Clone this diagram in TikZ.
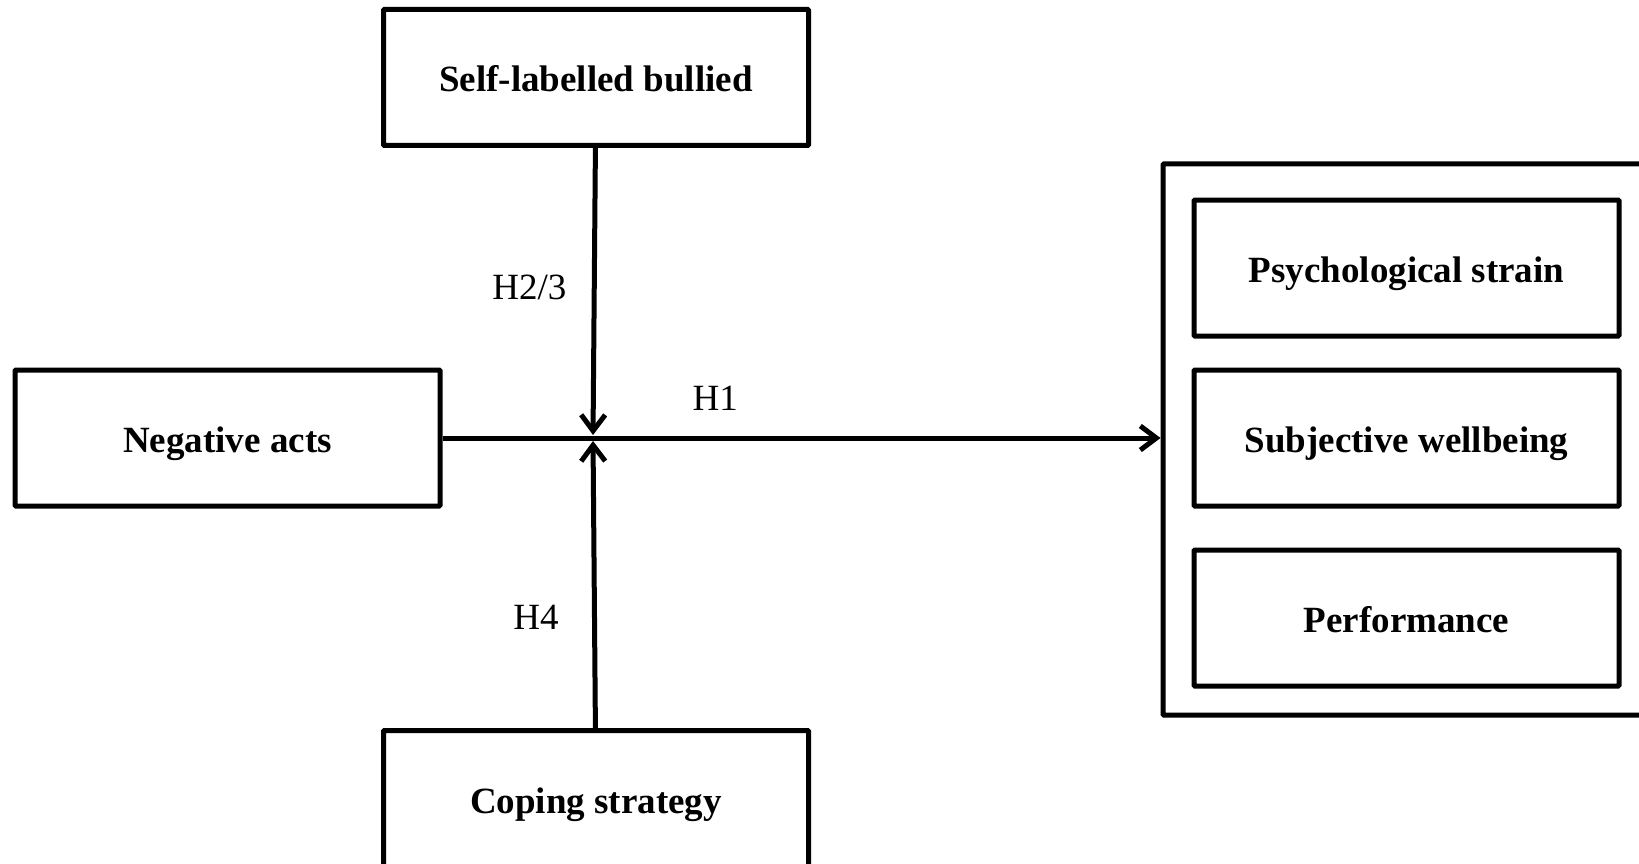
\documentclass[tikz,border=0pt]{standalone}
\usepackage{fontspec}
\setmainfont{Liberation Serif}
\usetikzlibrary{positioning,calc,fit,arrows.meta}

\begin{document}
\begin{tikzpicture}[x=1pt,y=1pt,
  line width=5pt,
  >={Straight Barb[length=16pt,width=24pt]},
  boxstyle/.style={
    rectangle,
    draw=black,
    rounded corners=1pt,
    minimum width=425pt,
    minimum height=136pt,
    text height=29pt,text depth=0pt,
    font=\fontsize{37}{44}\selectfont\bfseries,
  },
  labelstyle/.style={font=\fontsize{37}{44}\selectfont}]
\clip (0,0) rectangle (1639,-864);
\node[boxstyle] (neg) at (227.5,-438) {Negative acts};
\coordinate (mid) at (593,-438);
\node[boxstyle] (self) [above=290pt of mid,xshift=3pt] {Self-labelled bullied};
\node[boxstyle] (cope) [below=290pt of mid,xshift=3pt] {Coping strategy};
\node[boxstyle] (subj) at (1406.5,-438) {Subjective wellbeing};
\node[boxstyle] (psych) [above=29pt of subj] {Psychological strain};
\node[boxstyle] (perf) [below=39pt of subj] {Performance};
\coordinate (outerNW) at (1163,-164);
\coordinate (outerSE) at (1680,-715);
\node[draw,rounded corners=1pt,inner sep=0pt,fit=(outerNW)(outerSE)] (outcomes) {};
\path (self) edge[->,shorten >=3pt] node[labelstyle,pos=0.48,left=22pt] {H2/3} (mid)
  (cope) edge[->,shorten >=3pt] node[labelstyle,pos=0.38,left=30pt] {H4} (mid)
  (neg.east) edge[->] node[labelstyle,pos=0.38,above=22pt] {H1} (neg.east -| outcomes.west);
\end{tikzpicture}
\end{document}
